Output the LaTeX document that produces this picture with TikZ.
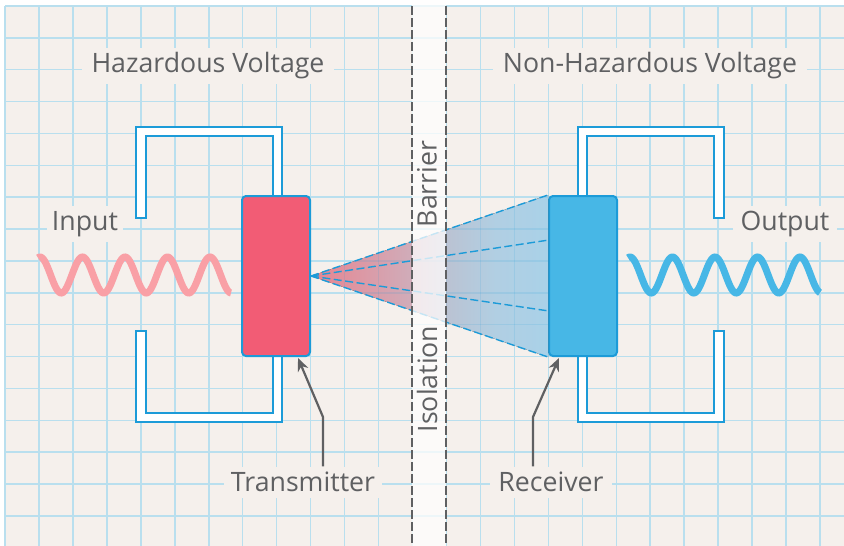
\documentclass[tikz,border=0pt]{standalone}
\usepackage{fontspec}
\setmainfont{Open Sans}
\usetikzlibrary{arrows.meta}
\definecolor{paper}{HTML}{F5F0EC}
\definecolor{gridblue}{HTML}{B9DFEE}
\definecolor{linkblue}{HTML}{1C9BD8}
\definecolor{textgray}{HTML}{5F6062}
\definecolor{redbox}{HTML}{F25C75}
\definecolor{bluebox}{HTML}{47B7E6}
\definecolor{redwave}{HTML}{F9A0A6}
\definecolor{conea}{HTML}{E88490}
\definecolor{coneb}{HTML}{CFAEBB}
\definecolor{conec}{HTML}{BAC3D3}
\definecolor{coned}{HTML}{B1CFE3}
\definecolor{conee}{HTML}{A9D1E8}
\pgfdeclarehorizontalshading{conefade}{100bp}{
    color(0bp)=(conea); color(25bp)=(conea); color(47bp)=(coneb);
    color(54bp)=(conec); color(64bp)=(coned); color(75bp)=(conee); color(100bp)=(conee)}
\tikzset{
    gridline/.style={gridblue,line width=1.5pt},
    label/.style={fill=paper,text=textgray,inner sep=0pt,font=\fontsize{26.7}{30}\selectfont},
    barrierlabel/.style={text=textgray,inner sep=0pt,rotate=90,font=\fontsize{26.7}{30}\selectfont},
    bracket/.style={fill=white,draw=linkblue,line width=1.3pt},
    unit/.style={rounded corners=4pt,draw=linkblue,line width=2pt,minimum width=68pt,minimum height=160pt,inner sep=0pt},
    ray/.style={linkblue,line width=1.4pt,dash pattern=on 8pt off 3.5pt},
    edge/.style={textgray,line width=1.4pt,dash pattern=on 9pt off 3pt},
    pointer/.style={textgray,line width=2.2pt,-{Stealth[length=13pt,width=11pt]}},
    wave/.style={line width=7pt,samples=240}
}
\begin{document}
\begin{tikzpicture}[x=1pt,y=-1pt]
    \useasboundingbox (0,0) rectangle (844,546);
    \fill[paper] (5,6) rectangle (844,546);
    % grid
    \foreach \i in {0,...,24}{
        \draw[gridline] (5+33.96*\i,6)--(5+33.96*\i,546);
    }
    \foreach \j in {0,...,16}{
        \draw[gridline] (5,6+31.87*\j)--(844,6+31.87*\j);
    }
    % brackets
    \draw[bracket] (136,218)--(136,127)--(282,127)--(282,200)--(273,200)--(273,136)--(146,136)--(146,218)--cycle;
    \draw[bracket] (136,331)--(136,422)--(282,422)--(282,350)--(273,350)--(273,413)--(146,413)--(146,331)--cycle;
    \draw[bracket] (724,218)--(724,127)--(578,127)--(578,200)--(587,200)--(587,136)--(714,136)--(714,218)--cycle;
    \draw[bracket] (724,331)--(724,422)--(578,422)--(578,350)--(587,350)--(587,413)--(714,413)--(714,331)--cycle;
    % units
    \node[unit,fill=redbox] (txunit) at (276,276) {};
    \node[unit,fill=bluebox] (rxunit) at (583,276) {};
    \coordinate (rayb) at (549,240);
    \coordinate (rayc) at (549,311);
    % light cone
    \fill[shading=conefade]
        (txunit.east)--(rxunit.north west)--(rxunit.south west)--cycle;
    \begin{scope}
        \clip (txunit.east)--(rxunit.north west)--(rxunit.south west)--cycle;
        \foreach \i in {9,...,16}{
            \draw[linkblue,line width=1.5pt,opacity=.13] (5+33.96*\i,180)--(5+33.96*\i,370);
        }
        \foreach \j in {6,...,10}{
            \draw[linkblue,line width=1.5pt,opacity=.13] (310,6+31.87*\j)--(549,6+31.87*\j);
        }
    \end{scope}
    \draw[ray] (txunit.east)--(rxunit.north west);
    \draw[ray] (txunit.east)--(rayb);
    \draw[ray] (txunit.east)--(rayc);
    \draw[ray] (txunit.east)--(rxunit.south west);
    % barrier
    \fill[white!97!paper,fill opacity=.75] (412,0) rectangle (446,546);
    \draw[edge] (412,6)--(412,546);
    \draw[edge] (446,6)--(446,546);
    % waves
    \draw[wave,redwave] plot[domain=38:231] ({\x},{275-18*cos(8.47*(\x-40))});
    \draw[wave,bluebox] plot[domain=628:820] ({\x},{275-18*cos(8.47*(\x-630))});
    % labels
    \node[label,minimum width=252pt,minimum height=36pt] (hazlabel) at (208,66) {Hazardous Voltage};
    \node[label,minimum width=314pt,minimum height=36pt] (safelabel) at (650,66) {Non-Hazardous Voltage};
    \node[label,minimum width=76pt,minimum height=36pt] (inlabel) at (85,224) {Input};
    \node[label,minimum width=104pt,minimum height=36pt] (outlabel) at (785,224) {Output};
    \node[label,minimum width=158pt,minimum height=31pt] (txlabel) at (303,482) {Transmitter};
    \node[label,minimum width=122pt,minimum height=31pt] (rxlabel) at (551,482) {Receiver};
    \node[barrierlabel] (toplabel) at (427,184) {Barrier};
    \node[barrierlabel] (lowlabel) at (427,379) {Isolation};
    % pointers
    \coordinate (txbend) at (323,417);
    \coordinate (txtip) at (298,358);
    \coordinate (rxbend) at (533,417);
    \coordinate (rxtip) at (559,358);
    \draw[pointer] (txlabel.north -| txbend)--(txbend)--(txtip);
    \draw[pointer] (rxlabel.north -| rxbend)--(rxbend)--(rxtip);
\end{tikzpicture}
\end{document}
